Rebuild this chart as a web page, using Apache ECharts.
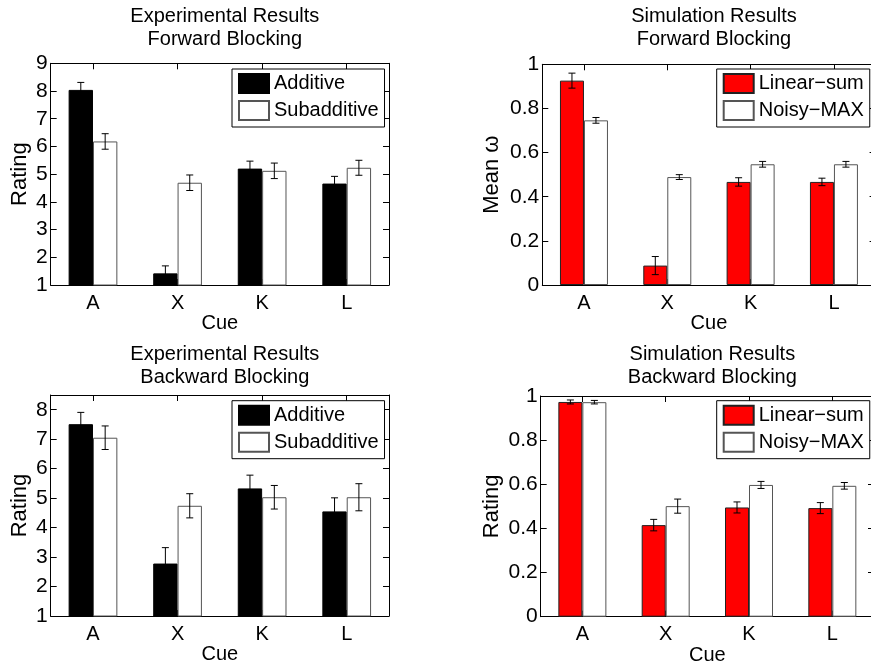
<!DOCTYPE html>
<html>
<head>
<meta charset="utf-8">
<script src="https://cdn.jsdelivr.net/npm/echarts@6/dist/echarts.min.js"></script>
<style>
html,body{margin:0;padding:0;background:#fff;}
#chart{width:871px;height:664px;}
</style>
</head>
<body>
<div id="chart"></div>
<script>
// ---- Data ----
const categories = ['A', 'X', 'K', 'L'];

const fbExpAdditive       = [8.04, 1.42, 5.20, 4.66];
const fbExpAdditiveErr    = [0.27, 0.27, 0.27, 0.26];
const fbExpSubadditive    = [6.18, 4.69, 5.12, 5.23];
const fbExpSubadditiveErr = [0.28, 0.28, 0.28, 0.27];

const fbSimLinear    = [0.926, 0.088, 0.467, 0.467];
const fbSimLinearErr = [0.034, 0.041, 0.019, 0.017];
const fbSimNoisy     = [0.746, 0.489, 0.547, 0.547];
const fbSimNoisyErr  = [0.013, 0.011, 0.013, 0.013];

const bbExpAdditive       = [7.51, 2.78, 5.33, 4.55];
const bbExpAdditiveErr    = [0.40, 0.54, 0.45, 0.46];
const bbExpSubadditive    = [7.05, 4.74, 5.03, 5.03];
const bbExpSubadditiveErr = [0.40, 0.41, 0.40, 0.46];

const bbSimLinear    = [0.973, 0.415, 0.495, 0.492];
const bbSimLinearErr = [0.009, 0.026, 0.025, 0.025];
const bbSimNoisy     = [0.972, 0.501, 0.597, 0.593];
const bbSimNoisyErr  = [0.008, 0.032, 0.016, 0.015];

const expRangeFB = [1, 9, 1];
const expRangeBB = [1, 8.5, 1];
const simRange   = [0, 1, 0.2];

const panelTitles = [
  'Experimental Results\nForward Blocking',
  'Simulation Results\nForward Blocking',
  'Experimental Results\nBackward Blocking',
  'Simulation Results\nBackward Blocking'
];
const yNames = ['Rating', 'Mean ω', 'Rating', 'Rating'];
const xName = 'Cue';

// ---- Layout / style ----
const FONT = '"Liberation Sans", Arial, Helvetica, sans-serif';
const BAR_RATIO = 0.288;
const grids = [
  {left: 50.7,  top: 63.3, width: 338.3, height: 221.7},
  {left: 542.3, top: 64.3, width: 333.3, height: 220.7},
  {left: 50.7,  top: 395,  width: 338.3, height: 221},
  {left: 540.7, top: 396,  width: 333.3, height: 220.7}
];
const ranges = [expRangeFB, simRange, expRangeBB, simRange];
const yNameGaps = [20, 39, 20, 38];
const legendPos = [
  {left: 232, top: 69},
  {left: 716.7, top: 69},
  {left: 232, top: 400.7},
  {left: 716.7, top: 400.7}
];
const seriesDefs = [
  [{name: 'Additive', data: fbExpAdditive, err: fbExpAdditiveErr, fill: '#000000', border: '#000000'},
   {name: 'Subadditive', data: fbExpSubadditive, err: fbExpSubadditiveErr, fill: '#ffffff', border: '#555555'}],
  [{name: 'Linear−sum', data: fbSimLinear, err: fbSimLinearErr, fill: '#ff0000', border: '#222222'},
   {name: 'Noisy−MAX', data: fbSimNoisy, err: fbSimNoisyErr, fill: '#ffffff', border: '#555555'}],
  [{name: 'Additive', data: bbExpAdditive, err: bbExpAdditiveErr, fill: '#000000', border: '#000000'},
   {name: 'Subadditive', data: bbExpSubadditive, err: bbExpSubadditiveErr, fill: '#ffffff', border: '#555555'}],
  [{name: 'Linear−sum', data: bbSimLinear, err: bbSimLinearErr, fill: '#ff0000', border: '#222222'},
   {name: 'Noisy−MAX', data: bbSimNoisy, err: bbSimNoisyErr, fill: '#ffffff', border: '#555555'}]
];

const option = {
  animation: false,
  backgroundColor: '#ffffff',
  textStyle: {fontFamily: FONT, color: '#000'},
  title: [], grid: [], xAxis: [], yAxis: [], legend: [], series: []
};

grids.forEach((g, gi) => {
  option.grid.push(Object.assign({show: false, containLabel: false, outerBoundsMode: 'none'}, g));
  option.title.push({
    text: panelTitles[gi],
    left: g.left + g.width / 2,
    top: gi < 2 ? 0 : 338,
    textAlign: 'center',
    textStyle: {fontFamily: FONT, fontSize: 20, fontWeight: 'normal', color: '#000', lineHeight: 23}
  });
  const axLine = {show: true, onZero: false, lineStyle: {color: '#000', width: 1}};
  const tick = {show: true, inside: true, length: 6, lineStyle: {color: '#000', width: 1}};
  option.xAxis.push({
    type: 'category', gridIndex: gi, data: categories, position: 'bottom',
    axisLine: axLine, axisTick: Object.assign({alignWithLabel: true}, tick),
    axisLabel: {show: true, margin: 8, fontSize: 20, color: '#000', fontFamily: FONT},
    splitLine: {show: false},
    name: xName, nameLocation: 'middle', nameGap: 23,
    nameTextStyle: {fontSize: 20, color: '#000', fontFamily: FONT}
  });
  option.xAxis.push({
    type: 'category', gridIndex: gi, data: categories, position: 'top',
    axisLine: axLine, axisTick: Object.assign({alignWithLabel: true}, tick),
    axisLabel: {show: false}, splitLine: {show: false}
  });
  const r = ranges[gi];
  option.yAxis.push({
    type: 'value', gridIndex: gi, min: r[0], max: r[1], interval: r[2], position: 'left',
    axisLine: axLine, axisTick: tick,
    axisLabel: {show: true, margin: 3, fontSize: 21, color: '#000', fontFamily: FONT,
                showMaxLabel: gi !== 2, showMinLabel: true},
    splitLine: {show: false},
    name: yNames[gi], nameLocation: 'middle', nameGap: yNameGaps[gi], nameRotate: 90,
    nameTextStyle: {fontSize: 22, color: '#000', fontFamily: FONT}
  });
  option.yAxis.push({
    type: 'value', gridIndex: gi, min: r[0], max: r[1], interval: r[2], position: 'right',
    axisLine: axLine, axisTick: tick, axisLabel: {show: false}, splitLine: {show: false}
  });

  const defs = seriesDefs[gi];
  option.legend.push(Object.assign({
    orient: 'vertical',
    data: defs.map(d => d.name),
    icon: 'rect', itemWidth: 30, itemHeight: 19, itemGap: 6,
    padding: [4, 6, 6, 6],
    borderColor: '#000', borderWidth: 1, backgroundColor: '#fff',
    selectedMode: false,
    textStyle: {fontSize: 20, color: '#000', fontFamily: FONT, lineHeight: 20}
  }, legendPos[gi]));

  defs.forEach((d, si) => {
    option.series.push({
      type: 'bar', name: d.name, xAxisIndex: gi * 2, yAxisIndex: gi * 2,
      data: d.data, barWidth: (BAR_RATIO * 100) + '%', barGap: '0%',
      itemStyle: {color: d.fill, borderColor: d.border, borderWidth: 1},
      emphasis: {disabled: true}, silent: true
    });
  });
  defs.forEach((d, si) => {
    const side = si === 0 ? -1 : 1;
    option.series.push({
      type: 'custom', xAxisIndex: gi * 2, yAxisIndex: gi * 2, z: 5, silent: true,
      data: d.data.map((v, i) => [i, v, d.err[i]]),
      renderItem: function (params, api) {
        const i = api.value(0), v = api.value(1), e = api.value(2);
        const band = api.size([1, 0])[0];
        const off = side * band * BAR_RATIO / 2;
        const top = api.coord([i, v + e]);
        const bot = api.coord([i, v - e]);
        const x = top[0] + off;
        const cap = 3.5;
        const st = {stroke: '#000', lineWidth: 1};
        return {type: 'group', children: [
          {type: 'line', shape: {x1: x, y1: top[1], x2: x, y2: bot[1]}, style: st},
          {type: 'line', shape: {x1: x - cap, y1: top[1], x2: x + cap, y2: top[1]}, style: st},
          {type: 'line', shape: {x1: x - cap, y1: bot[1], x2: x + cap, y2: bot[1]}, style: st}
        ]};
      }
    });
  });
});

const chart = echarts.init(document.getElementById('chart'), null, {renderer: 'canvas'});
chart.setOption(option);
</script>
</body>
</html>
